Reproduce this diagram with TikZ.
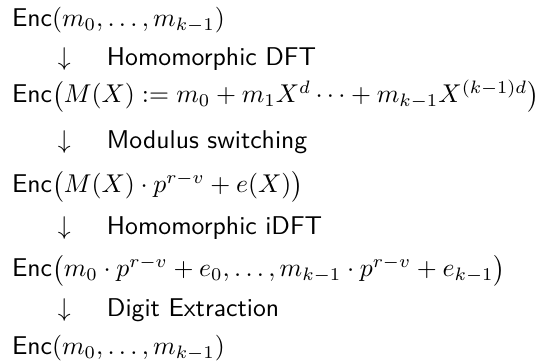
\documentclass[tikz,border=0pt]{standalone}
\usepackage{amsmath}
\begin{document}
\begin{tikzpicture}[x=0.389pt,y=-0.389pt,
  every node/.style={inner sep=0pt,outer sep=0pt,anchor=base west,font=\sffamily},
  ctext/.style={},
  arr/.style={},
  lbl/.style={}]
\useasboundingbox (0,0) rectangle (554,364);
\node[ctext] (c1) at (12,27) {Enc$(m_0,\dots,m_{k-1})$};
\node[arr] (a1) at (58,66) {$\downarrow$};
\node[lbl] (l1) at (107,66) {Homomorphic DFT};
\node[ctext] (c2) at (12,103) {Enc$\bigl(M(X) := m_0 + m_1X^d \cdots + m_{k-1}X^{(k-1)d}\bigr)$};
\node[arr] (a2) at (58,149) {$\downarrow$};
\node[lbl] (l2) at (107,149) {Modulus switching};
\node[ctext] (c3) at (12,193) {Enc$\bigl(M(X)\cdot p^{r-v} + e(X)\bigr)$};
\node[arr] (a3) at (58,235) {$\downarrow$};
\node[lbl] (l3) at (107,235) {Homomorphic iDFT};
\node[ctext] (c4) at (12,277) {Enc$\bigl(m_0\cdot p^{r-v}+e_0,\dots,m_{k-1}\cdot p^{r-v}+e_{k-1}\bigr)$};
\node[arr] (a4) at (58,317) {$\downarrow$};
\node[lbl] (l4) at (107,317) {Digit Extraction};
\node[ctext] (c5) at (12,355) {Enc$(m_0,\dots,m_{k-1})$};
\end{tikzpicture}
\end{document}
